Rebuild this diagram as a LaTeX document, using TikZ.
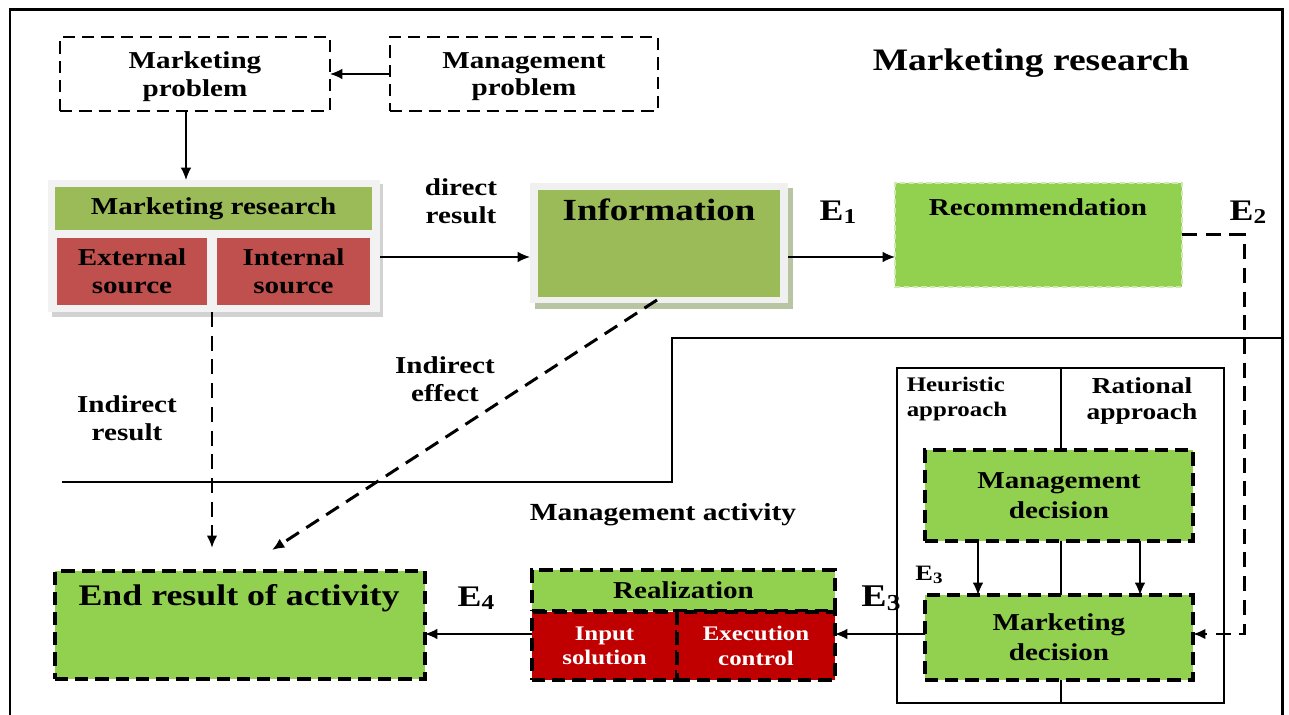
\documentclass[tikz,border=0pt]{standalone}
\usepackage{fontspec}
\setmainfont{Liberation Serif}[FakeStretch=1.2]
\usetikzlibrary{arrows.meta,calc}
\definecolor{gA}{HTML}{9BBB59}
\definecolor{gB}{HTML}{92D050}
\definecolor{rA}{HTML}{C0504D}
\definecolor{rB}{HTML}{C00000}
\definecolor{shA}{HTML}{B9C4A3}
\newcommand\Esub[3]{\textbf{\fontsize{#1}{#1}\selectfont E\raisebox{-0.25ex}{\fontsize{#2}{#2}\selectfont #3}}}
\tikzset{
  bx/.style 2 args={anchor=north west, minimum width=#1*0.02cm, minimum height=#2*0.02cm, inner sep=0pt, outer sep=0pt},
  txt/.style={font={\bfseries\fontsize{13.8}{15.8}\selectfont}, align=center, inner sep=0pt},
  bigtxt/.style={font={\bfseries\fontsize{17.5}{19}\selectfont}, align=center, inner sep=0pt},
  smalltxt/.style={font={\bfseries\fontsize{11.8}{13.8}\selectfont}, align=center, inner sep=0pt},
  pbox/.style={draw=black, line width=1.6pt, dash pattern=on 7pt off 4pt},
  dbox/.style={draw=black, line width=1.9pt, dash pattern=on 7.5pt off 4pt},
  arr/.style={-{Latex[length=7pt,width=6pt]}, line width=0.85pt},
  darr/.style={-{Latex[length=7pt,width=6pt]}, line width=1.7pt, dash pattern=on 8.5pt off 5pt},
  thinline/.style={line width=0.9pt}
}
\begin{document}
\begin{tikzpicture}[x=0.02cm,y=-0.02cm]
\useasboundingbox (0,0) rectangle (1289,715);
% outer frame
\draw[line width=1.7pt] (10,715) -- (10,10) -- (1282,10) -- (1282,715);

% top problems
\node[bx={270}{74}, pbox, txt, text depth=0pt] (mp) at (60,37) {Marketing\\problem};
\node[bx={268}{74}, pbox, txt, text depth=0pt] (mgp) at (390,37) {Management\\problem};
\node[bigtxt, font={\bfseries\fontsize{17.8}{19}\selectfont}] (title) at (1031,63) {Marketing research};

% marketing research block
\fill[gray!35] (52,184) rectangle (383,317);
\node[bx={332}{132}, fill=black!5] (mrb) at (48,180) {};
\node[bx={317}{43}, fill=gA, txt] (mrh) at (55,187) {Marketing research};
\node[bx={150}{67}, fill=rA, txt] (ext) at (57,238) {External\\source};
\node[bx={153}{67}, fill=rA, txt] (int) at (217,238) {Internal\\source};

% information block
\fill[shA] (535,188) rectangle (793,309);
\node[bx={258}{120}, fill=black!6] (infob) at (530,183) {};
\node[bx={242}{107}, fill=gA] (info) at (538,190) {};
\node[bigtxt] (infot) at (659,210) {Information};

% recommendation
\node[bx={287}{104}, fill=gB, draw=gB!45!white, line width=1pt, dash pattern=on 3pt off 2pt] (rec) at (895,183) {};
\node[txt] (rect) at (1038,207) {Recommendation};

% labels
\node[txt] (dres) at (461,201) {direct\\result};
\node[inner sep=0pt] (e1) at (838,212) {\Esub{17}{12}{1}};
\node[inner sep=0pt] (e2) at (1248,212) {\Esub{17}{12}{2}};
\node[txt] (ires) at (127,418) {Indirect\\result};
\node[txt] (ieff) at (445,379) {Indirect\\effect};
\node[txt, font={\bfseries\fontsize{14}{16}\selectfont}] (mact) at (663,515) {Management activity};
\node[inner sep=0pt] (e4) at (476,598) {\Esub{17}{12}{4}};
\node[inner sep=0pt] (e3a) at (881,598) {\Esub{18}{13}{3}};
\node[inner sep=0pt] (e3b) at (929,575) {\Esub{12.5}{9}{3}};

% separator line
\draw[thinline] (62,482) -- (672,482) -- (672,338) -- (1282,338);

% end result
\node[bx={370}{108}, fill=gB, dbox] (end) at (55,571) {};
\node[bigtxt, font={\bfseries\fontsize{17}{19}\selectfont}] (endt) at (239,598) {End result of activity};

% realization
\node[bx={303}{41}, fill=gB, dbox, txt] (realh) at (532,570) {Realization};
\node[bx={145}{68}, fill=rB, dbox, smalltxt, text=white] (inp) at (532,612) {Input\\solution};
\node[bx={158}{68}, fill=rB, dbox, smalltxt, text=white] (exe) at (677,612) {Execution\\control};

% approach panel
\node[bx={327}{335}, draw=black, thinline] (appr) at (897,368) {};
\node[smalltxt, align=left] (heu) at (957,399) {Heuristic\\approach};
\node[txt, font={\bfseries\fontsize{13}{14.8}\selectfont}] (rat) at (1142,401) {Rational\\approach};
\node[bx={268}{91}, fill=gB, dbox, txt, font={\bfseries\fontsize{13.8}{17}\selectfont}] (mgd) at (925,450) {Management\\decision};
\node[bx={268}{85}, fill=gB, dbox, txt, font={\bfseries\fontsize{13.8}{17}\selectfont}] (md) at (925,595) {Marketing\\decision};
\coordinate (xdiv) at (1061,0);
\draw[thinline] (appr.north -| xdiv) -- (mgd.north -| xdiv);
\draw[thinline] (mgd.south -| xdiv) -- (md.north -| xdiv);
\draw[thinline] (md.south -| xdiv) -- (appr.south -| xdiv);
\coordinate (xa1) at (978,0);
\coordinate (xa2) at (1140,0);
\draw[arr] (mgd.south -| xa1) -- (md.north -| xa1);
\draw[arr] (mgd.south -| xa2) -- (md.north -| xa2);

% connectors
\coordinate (y257) at (0,257);
\coordinate (y634) at (0,634);
\coordinate (x186) at (186,0);
\coordinate (x212) at (212,0);
\draw[arr] (mgp.west) -- (mp.east);
\draw[arr] (mp.south -| x186) -- (mrb.north -| x186);
\draw[arr] (mrb.east |- y257) -- (infob.west |- y257);
\draw[arr] (infob.east |- y257) -- (rec.west |- y257);
\coordinate (ir) at (212,548);
\draw[darr] (mrb.south -| x212) -- (ir);
\coordinate (iestart) at (657,300);
\coordinate (ie) at (272,550);
\draw[darr] (iestart) -- (ie);
\coordinate (e2c) at (1244,235);
\draw[darr] (rec.east) -- (e2c) |- (md.east |- y634);
\draw[arr] (md.west |- y634) -- (exe.east |- y634);
\draw[arr] (inp.west |- y634) -- (end.east |- y634);
\end{tikzpicture}
\end{document}
